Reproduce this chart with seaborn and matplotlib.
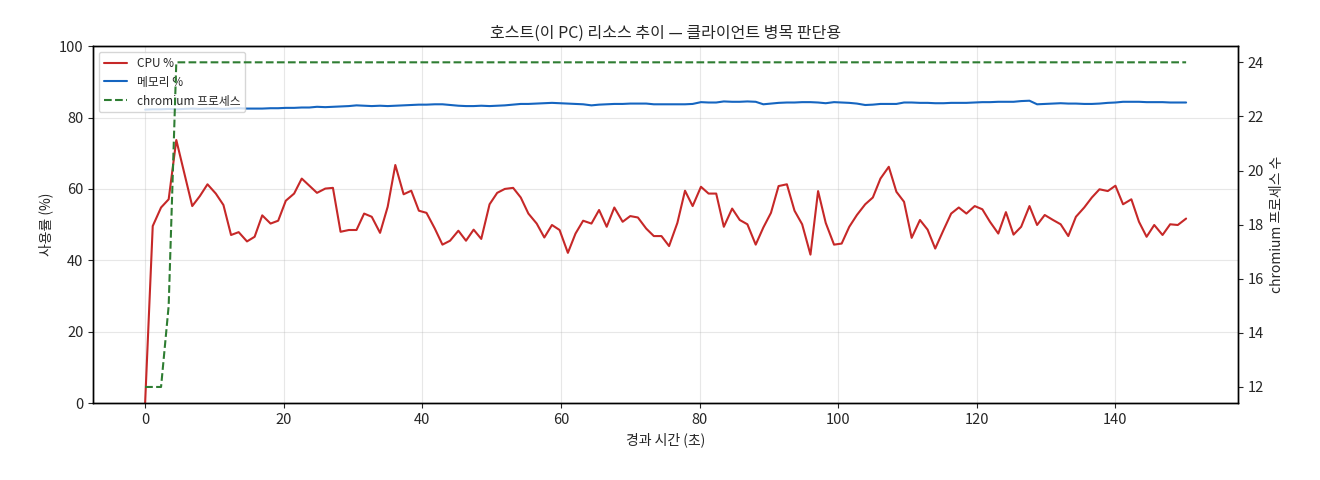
import pandas as pd
import matplotlib
matplotlib.use("Agg")
import matplotlib.pyplot as plt
import seaborn as sns

# 경과 시간 (초)
elapsed = [
    0.0, 1.1, 2.3, 3.4, 4.5, 5.6, 6.8, 7.9, 9.0, 10.2,
    11.3, 12.4, 13.5, 14.7, 15.8, 16.9, 18.1, 19.2, 20.3, 21.5,
    22.6, 23.7, 24.8, 26.0, 27.1, 28.2, 29.4, 30.5, 31.6, 32.7,
    33.9, 35.0, 36.1, 37.3, 38.4, 39.5, 40.6, 41.8, 42.9, 44.0,
    45.2, 46.3, 47.4, 48.5, 49.7, 50.8, 51.9, 53.1, 54.2, 55.3,
    56.5, 57.6, 58.7, 59.8, 61.0, 62.1, 63.2, 64.4, 65.5, 66.6,
    67.7, 68.9, 70.0, 71.1, 72.3, 73.4, 74.5, 75.6, 76.8, 77.9,
    79.0, 80.2, 81.3, 82.4, 83.5, 84.7, 85.8, 86.9, 88.1, 89.2,
    90.3, 91.4, 92.6, 93.7, 94.8, 96.0, 97.1, 98.2, 99.4, 100.5,
    101.6, 102.7, 103.9, 105.0, 106.1, 107.3, 108.4, 109.5, 110.6, 111.8,
    112.9, 114.0, 115.2, 116.3, 117.4, 118.5, 119.7, 120.8, 121.9, 123.1,
    124.2, 125.3, 126.4, 127.6, 128.7, 129.8, 131.0, 132.1, 133.2, 134.3,
    135.5, 136.6, 137.7, 138.9, 140.0, 141.1, 142.3, 143.4, 144.5, 145.6,
    146.8, 147.9, 149.0, 150.2,
]

cpu_pct = [
    0.0, 49.6, 54.8, 57.1, 73.7, 64.8, 55.2, 58.0, 61.3, 58.7,
    55.5, 47.1, 47.9, 45.3, 46.6, 52.6, 50.3, 51.1, 56.7, 58.7,
    62.9, 60.9, 58.9, 60.1, 60.3, 48.0, 48.5, 48.5, 53.1, 52.2,
    47.7, 55.0, 66.7, 58.5, 59.5, 53.9, 53.3, 48.9, 44.4, 45.5,
    48.3, 45.5, 48.6, 46.0, 55.7, 58.9, 60.0, 60.3, 57.6, 53.1,
    50.3, 46.4, 49.9, 48.5, 42.1, 47.5, 51.1, 50.3, 54.1, 49.4,
    54.8, 50.8, 52.4, 52.0, 48.9, 46.8, 46.8, 44.0, 50.5, 59.5,
    55.2, 60.6, 58.7, 58.7, 49.4, 54.5, 51.3, 50.1, 44.4, 49.2,
    53.3, 60.8, 61.3, 53.9, 50.1, 41.6, 59.4, 50.5, 44.4, 44.7,
    49.4, 52.7, 55.7, 57.6, 62.9, 66.2, 59.2, 56.4, 46.3, 51.3,
    48.6, 43.3, 48.5, 53.1, 54.8, 53.1, 55.2, 54.3, 50.8, 47.5,
    53.5, 47.2, 49.4, 55.2, 49.9, 52.7, 51.3, 50.1, 46.8, 52.2,
    54.8, 57.6, 59.9, 59.4, 60.9, 55.7, 57.1, 50.8, 46.6, 49.9,
    47.1, 50.1, 49.9, 51.7,
]

mem_pct = [
    82.2, 82.3, 82.3, 82.4, 82.3, 82.4, 82.5, 82.4, 82.5, 82.5,
    82.4, 82.5, 82.6, 82.5, 82.5, 82.5, 82.6, 82.6, 82.7, 82.7,
    82.8, 82.8, 83.0, 82.9, 83.0, 83.1, 83.2, 83.4, 83.3, 83.2,
    83.3, 83.2, 83.3, 83.4, 83.5, 83.6, 83.6, 83.7, 83.7, 83.5,
    83.3, 83.2, 83.2, 83.3, 83.2, 83.3, 83.4, 83.6, 83.8, 83.8,
    83.9, 84.0, 84.1, 84.0, 83.9, 83.8, 83.7, 83.4, 83.6, 83.7,
    83.8, 83.8, 83.9, 83.9, 83.9, 83.7, 83.7, 83.7, 83.7, 83.7,
    83.8, 84.3, 84.2, 84.2, 84.5, 84.4, 84.4, 84.5, 84.4, 83.7,
    83.9, 84.1, 84.2, 84.2, 84.3, 84.3, 84.2, 84.0, 84.3, 84.2,
    84.1, 83.9, 83.5, 83.6, 83.8, 83.8, 83.8, 84.2, 84.2, 84.1,
    84.1, 84.0, 84.0, 84.1, 84.1, 84.1, 84.2, 84.3, 84.3, 84.4,
    84.4, 84.4, 84.6, 84.7, 83.7, 83.8, 83.9, 84.0, 83.9, 83.9,
    83.8, 83.8, 83.9, 84.1, 84.2, 84.4, 84.4, 84.4, 84.3, 84.3,
    84.3, 84.2, 84.2, 84.2,
]

chromium_procs = [
    12, 12, 12, 15, 24, 24, 24, 24, 24, 24,
    24, 24, 24, 24, 24, 24, 24, 24, 24, 24,
    24, 24, 24, 24, 24, 24, 24, 24, 24, 24,
    24, 24, 24, 24, 24, 24, 24, 24, 24, 24,
    24, 24, 24, 24, 24, 24, 24, 24, 24, 24,
    24, 24, 24, 24, 24, 24, 24, 24, 24, 24,
    24, 24, 24, 24, 24, 24, 24, 24, 24, 24,
    24, 24, 24, 24, 24, 24, 24, 24, 24, 24,
    24, 24, 24, 24, 24, 24, 24, 24, 24, 24,
    24, 24, 24, 24, 24, 24, 24, 24, 24, 24,
    24, 24, 24, 24, 24, 24, 24, 24, 24, 24,
    24, 24, 24, 24, 24, 24, 24, 24, 24, 24,
    24, 24, 24, 24, 24, 24, 24, 24, 24, 24,
    24, 24, 24, 24,
]

df = pd.DataFrame({
    't': elapsed,
    'cpu': cpu_pct,
    'mem': mem_pct,
    'procs': chromium_procs,
})

sns.set_style("ticks")
plt.rcParams['font.family'] = ['Noto Sans CJK KR', 'DejaVu Sans']
plt.rcParams['axes.unicode_minus'] = False

fig, ax = plt.subplots(figsize=(13.2, 4.8), dpi=100)
fig.subplots_adjust(left=0.0705, right=0.938, bottom=0.16, top=0.904)

sns.lineplot(data=df, x='t', y='cpu', ax=ax, color='#c62828', linewidth=1.5, label='CPU %')
sns.lineplot(data=df, x='t', y='mem', ax=ax, color='#1565c0', linewidth=1.5, label='메모리 %')
ax.set_ylim(0, 100)
ax.set_xlabel('경과 시간 (초)', fontsize=10)
ax.set_ylabel('사용률 (%)', fontsize=10)
ax.grid(True, color='#b0b0b0', alpha=0.3, linewidth=0.8)
ax.tick_params(labelsize=10.5)

ax2 = ax.twinx()
sns.lineplot(data=df, x='t', y='procs', ax=ax2, color='#2e7d32', linewidth=1.5,
             linestyle='--', label='chromium 프로세스')
ax2.set_ylabel('chromium 프로세스 수', fontsize=10)
ax2.tick_params(labelsize=10.5)

# 범례 합치기
h1, l1 = ax.get_legend_handles_labels()
h2, l2 = ax2.get_legend_handles_labels()
ax2.get_legend().remove()
ax.legend(h1 + h2, l1 + l2, loc='upper left', fontsize=8.5)

for a in (ax, ax2):
    for s in a.spines.values():
        s.set_color('black')
        s.set_linewidth(1.0)

ax.set_title('호스트(이 PC) 리소스 추이 — 클라이언트 병목 판단용', fontsize=11.5)

fig.savefig('out.png', dpi=100)
